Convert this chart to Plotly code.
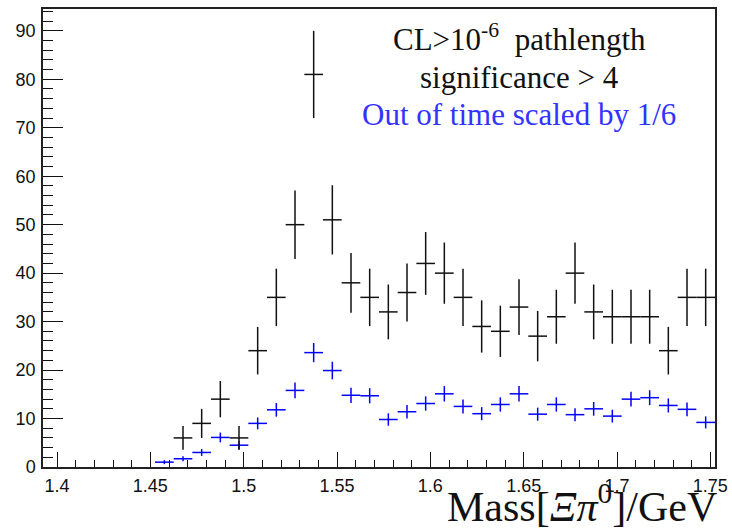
import plotly.graph_objects as go

# ---- data (bin centres in GeV, counts) ----
black_x = [1.4675, 1.4775, 1.4875, 1.4975, 1.5075, 1.5175, 1.5275, 1.5375, 1.5475, 1.5575,
           1.5675, 1.5775, 1.5875, 1.5975, 1.6075, 1.6175, 1.6275, 1.6375, 1.6475, 1.6575,
           1.6675, 1.6775, 1.6875, 1.6975, 1.7075, 1.7175, 1.7275, 1.7375, 1.7475]
black_y = [6, 9, 14, 6, 24, 35, 50, 81, 51, 38,
           35, 32, 36, 42, 40, 35, 29, 28, 33, 27,
           31, 40, 32, 31, 31, 31, 24, 35, 35]
black_err = [2.45, 3.0, 3.74, 2.45, 4.9, 5.92, 7.07, 9.0, 7.14, 6.16,
             5.92, 5.66, 6.0, 6.48, 6.32, 5.92, 5.39, 5.29, 5.74, 5.2,
             5.57, 6.32, 5.66, 5.57, 5.57, 5.57, 4.9, 5.92, 5.92]

blue_x = [1.4575, 1.4675, 1.4775, 1.4875, 1.4975, 1.5075, 1.5175, 1.5275, 1.5375, 1.5475,
          1.5575, 1.5675, 1.5775, 1.5875, 1.5975, 1.6075, 1.6175, 1.6275, 1.6375, 1.6475,
          1.6575, 1.6675, 1.6775, 1.6875, 1.6975, 1.7075, 1.7175, 1.7275, 1.7375, 1.7475]
blue_y = [1.0, 1.7, 3.0, 6.1, 4.5, 9.0, 11.8, 15.8, 23.6, 19.9,
          14.8, 14.7, 9.8, 11.4, 13.1, 15.1, 12.5, 11.0, 12.9, 15.1,
          10.9, 12.9, 10.8, 12.0, 10.5, 14.0, 14.3, 12.7, 11.9, 9.2]
blue_err = [0.41, 0.53, 0.71, 1.01, 0.87, 1.22, 1.40, 1.62, 1.98, 1.82,
            1.57, 1.57, 1.28, 1.38, 1.48, 1.59, 1.44, 1.35, 1.47, 1.59,
            1.35, 1.47, 1.34, 1.41, 1.32, 1.53, 1.54, 1.45, 1.41, 1.24]

bin_half_width = 0.005

fig = go.Figure()

fig.add_trace(go.Scatter(
    x=blue_x, y=blue_y, mode="markers",
    marker=dict(size=0, opacity=0, color="#0000ff", line=dict(width=0)),
    error_y=dict(type="data", array=blue_err, visible=True, width=0, thickness=1.5, color="#0000ff"),
    error_x=dict(type="constant", value=bin_half_width, visible=True, width=0, thickness=1.5, color="#0000ff"),
    showlegend=False, hoverinfo="x+y"))

fig.add_trace(go.Scatter(
    x=black_x, y=black_y, mode="markers",
    marker=dict(size=0, opacity=0, color="#111111", line=dict(width=0)),
    error_y=dict(type="data", array=black_err, visible=True, width=0, thickness=1.5, color="#111111"),
    error_x=dict(type="constant", value=bin_half_width, visible=True, width=0, thickness=1.5, color="#111111"),
    showlegend=False, hoverinfo="x+y"))

tickfont = dict(family="Liberation Sans, Arial, sans-serif", size=18, color="#111111")

fig.update_xaxes(
    range=[1.3925, 1.7525], tick0=1.4, dtick=0.05, tickformat="~g",
    ticks="inside", ticklen=15, tickwidth=1, tickcolor="#111111",
    minor=dict(dtick=0.01, ticks="inside", ticklen=7, tickwidth=1, tickcolor="#111111"),
    showline=True, mirror=True, linecolor="#222222", linewidth=1.5,
    showgrid=False, zeroline=False, tickfont=tickfont, ticklabelstandoff=2,
    automargin=False)

fig.update_yaxes(
    range=[0, 94.5], tick0=0, dtick=10,
    ticks="inside", ticklen=20, tickwidth=1, tickcolor="#111111",
    minor=dict(dtick=2, ticks="inside", ticklen=10, tickwidth=1, tickcolor="#111111"),
    showline=True, mirror=True, linecolor="#222222", linewidth=1.5,
    showgrid=False, zeroline=False, tickfont=tickfont, ticklabelstandoff=2,
    automargin=False)

W, H = 732, 528
L, R, T, B = 43, 17, 9, 61
pw, ph = W - L - R, H - T - B

def px(xp):
    return (xp - L) / pw

def py(yp):
    return 1 - (yp - T) / ph

serif = "Liberation Serif, Times New Roman, serif"
annos = [
    dict(text="CL>10<sup>-6</sup>  pathlength", x=px(519), y=py(37), color="#111111", size=31),
    dict(text="significance > 4", x=px(519), y=py(78), color="#111111", size=31),
    dict(text="Out of time scaled by 1/6", x=px(519), y=py(114), color="#3333ff", size=31),
]
for a in annos:
    fig.add_annotation(text=a["text"], x=a["x"], y=a["y"], xref="paper", yref="paper",
                       xanchor="center", yanchor="middle", showarrow=False,
                       font=dict(family=serif, size=a["size"], color=a["color"]))

fig.add_annotation(text="Mass[<i>Ξπ</i><sup>0</sup>]/GeV", x=px(719), y=py(504),
                   xref="paper", yref="paper", xanchor="right", yanchor="middle",
                   showarrow=False, font=dict(family=serif, size=42, color="#111111"))

fig.update_layout(
    width=W, height=H,
    margin=dict(l=L, r=R, t=T, b=B, pad=0),
    paper_bgcolor="white", plot_bgcolor="white",
)

fig.write_html("out.html",
               config={"displayModeBar": False},
               post_script="document.body.style.margin='0px';document.body.style.overflow='hidden';")
